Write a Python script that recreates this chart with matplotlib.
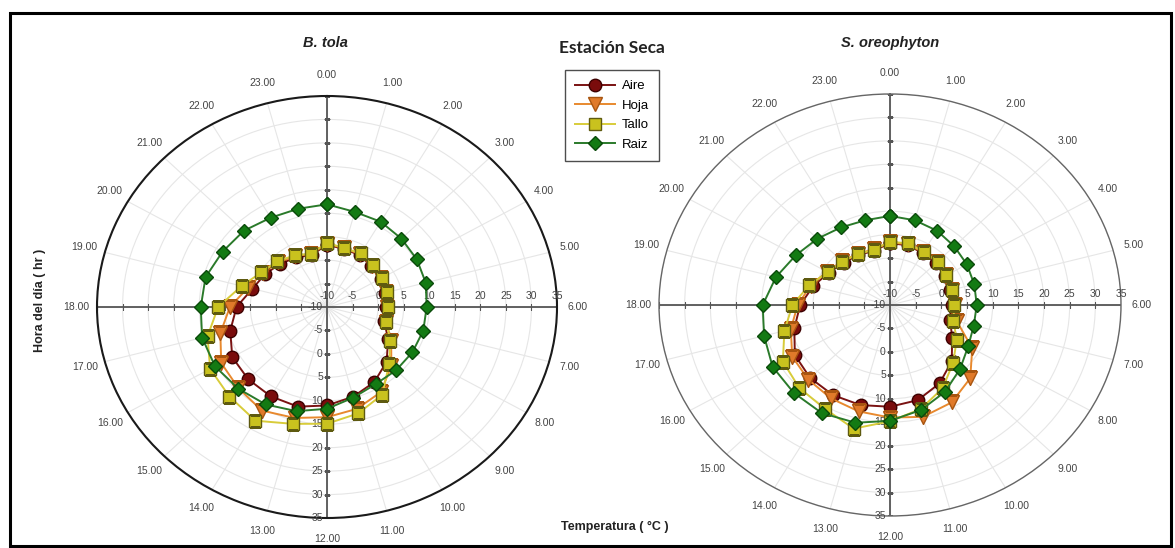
import numpy as np
import matplotlib
matplotlib.use("Agg")
import matplotlib.pyplot as plt
from matplotlib.patches import Rectangle
from matplotlib.lines import Line2D

plt.rcParams["font.family"] = ["Liberation Sans", "DejaVu Sans"]

W, H = 1175, 548

hours = np.arange(24)
hour_labels = ["%d.00" % h for h in hours]
r_ticks = np.arange(-10, 40, 5)
series_names = ["Aire", "Hoja", "Tallo", "Raiz"]

# B. tola
tola_aire = [3.3, 2.8, 2.8, 2.3, 2.1, 1.8, 1.6, 1.6, 3.8, 6.5, 8.5, 9.8,
             11.0, 12.0, 12.0, 11.8, 11.4, 9.6, 7.7, 5.1, 4.0, 3.0, 2.2, 1.5]
tola_hoja = [3.5, 3.0, 3.0, 2.5, 2.3, 2.0, 1.8, 2.0, 4.5, 7.8, 11.0, 12.5,
             13.5, 14.5, 15.5, 14.5, 13.9, 11.6, 9.0, 6.0, 4.5, 3.5, 2.5, 1.8]
tola_tallo = [3.7, 3.0, 3.2, 2.6, 2.4, 2.1, 1.9, 2.0, 4.3, 7.2, 11.6, 13.5,
              14.9, 15.8, 18.0, 17.0, 16.4, 14.2, 11.3, 7.3, 4.8, 3.8, 2.7, 1.8]
tola_raiz = [11.9, 11.0, 11.0, 10.6, 10.3, 10.0, 9.5, 9.5, 9.3, 9.1, 9.0, 10.0,
             11.7, 13.0, 14.0, 14.6, 15.3, 15.3, 14.7, 14.6, 13.6, 13.0, 12.0, 11.7]

# S. oreophyton
oreo_aire = [3.2, 3.2, 2.8, 2.7, 2.3, 2.1, 2.0, 2.1, 4.0, 7.0, 9.3, 11.0,
             11.7, 12.1, 12.2, 12.0, 11.4, 9.3, 7.5, 5.5, 3.8, 2.8, 2.3, 2.0]
oreo_hoja = [3.4, 3.4, 3.0, 3.0, 2.7, 2.6, 2.6, 3.5, 8.5, 12.1, 14.0, 14.7,
             14.0, 13.5, 13.0, 12.5, 12.0, 10.0, 8.0, 6.0, 4.2, 3.2, 2.6, 2.3]
oreo_tallo = [3.5, 3.6, 3.1, 3.1, 2.7, 2.6, 2.5, 2.8, 5.0, 7.4, 10.5, 13.0,
              14.8, 17.3, 15.5, 15.0, 14.1, 11.3, 9.0, 6.3, 4.0, 3.1, 2.5, 2.2]
oreo_raiz = [9.0, 8.7, 8.3, 7.7, 7.3, 7.0, 6.9, 6.9, 7.6, 9.3, 11.4, 13.2,
             14.7, 16.0, 16.6, 16.5, 16.4, 15.4, 14.8, 13.0, 11.2, 10.0, 9.1, 8.7]

styles = {
    "Aire": dict(color="#7a1212", marker="o", mfc="#7a0c0c", mec="#3d0000", ms=9),
    "Hoja": dict(color="#e8892e", marker="v", mfc="#e07a2a", mec="#a85510", ms=9.5),
    "Tallo": dict(color="#d8cc3a", marker="s", mfc="#c9c21e", mec="#5e5a10", ms=8.5),
    "Raiz": dict(color="#2a7a2a", marker="D", mfc="#137a13", mec="#0a4a0a", ms=7.5),
}


def px(x, y):
    return x / W, 1 - y / H


def panel(rect, title, tx, data, spine_c, spine_w):
    ax = fig.add_axes(rect, projection="polar")
    ax.set_aspect("auto")
    ax.set_theta_zero_location("N")
    ax.set_theta_direction(-1)
    ax.set_ylim(-10, 35)

    ax.set_xticks(np.radians(hours * 15))
    ax.set_xticklabels(hour_labels, fontsize=7.5, color="#444444")
    ax.tick_params(axis="x", direction="out", length=4, color="#333333", pad=4)
    ax.set_yticks(r_ticks)
    ax.set_yticklabels([])
    ax.grid(True, color="#e6e6e6", lw=0.8)
    ax.spines["polar"].set_color(spine_c)
    ax.spines["polar"].set_linewidth(spine_w)

    # cross axes through centre
    for th in [0, 90, 180, 270]:
        ax.plot([np.radians(th)] * 2, [-10, 35], color="#555555", lw=1.3, zorder=2)
        mk = "|" if th in (90, 270) else "_"
        ax.plot(np.full(len(r_ticks) - 1, np.radians(th)), r_ticks[1:], ls="none",
                marker=mk, ms=5, mew=0.8, color="#555555", zorder=2)

    for r in r_ticks:
        ax.annotate(str(r), xy=(np.pi / 2, r), xytext=(0, 4), textcoords="offset points",
                    ha="center", va="bottom", fontsize=7.5, color="#444444")
        ax.annotate(str(r), xy=(np.pi, r), xytext=(-3, 0), textcoords="offset points",
                    ha="right", va="center", fontsize=7.5, color="#444444")

    th = np.radians(np.append(hours, 0) * 15)
    for name, vals in zip(series_names, data):
        v = np.append(vals, vals[0])
        ax.plot(th, v, lw=1.4, zorder=3, **styles[name])

    fig.text(*px(tx, 43), title, ha="center", va="center", fontsize=10.5,
             fontweight="bold", fontstyle="italic", color="#222222")
    return ax


fig = plt.figure(figsize=(W / 100, H / 100), dpi=100)

panel([97 / W, 30 / H, 460 / W, 422 / H], "B. tola", 325,
      [tola_aire, tola_hoja, tola_tallo, tola_raiz], "#1a1a1a", 1.5)
panel([659 / W, 32 / H, 462 / W, 422 / H], "S. oreophyton", 890,
      [oreo_aire, oreo_hoja, oreo_tallo, oreo_raiz], "#666666", 1.0)

handles = [Line2D([], [], lw=1.4, **styles[n]) for n in series_names]
leg = fig.legend(handles, series_names, loc="upper center",
                 bbox_to_anchor=px(612, 63), frameon=True, fancybox=False,
                 edgecolor="#222222", fontsize=9.5, handlelength=3.0,
                 labelspacing=0.55, borderpad=0.8, handletextpad=0.5)
leg.get_frame().set_linewidth(1.0)

fig.text(*px(612, 48), "Estación Seca", ha="center", va="center", fontsize=12.5,
         fontweight="bold", family="Lato", color="#222222")
fig.text(*px(40, 300), "Hora del día ( hr )", ha="center", va="center", rotation=90,
         fontsize=9, fontweight="bold", color="#222222")
fig.text(*px(615, 527), "Temperatura ( °C )", ha="center", va="center",
         fontsize=9, fontweight="bold", color="#222222")

fig.patches.append(Rectangle(px(10, 546), 1161 / W, 533 / H, transform=fig.transFigure,
                             fill=False, lw=2.2, ec="black"))

fig.savefig("out.png", dpi=100)
